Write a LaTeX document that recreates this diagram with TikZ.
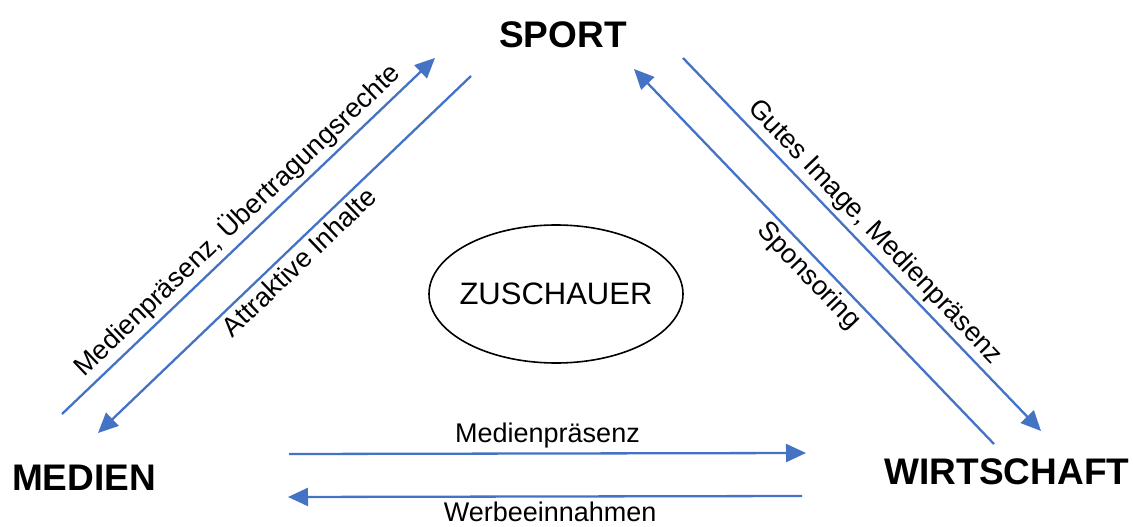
\documentclass[tikz,border=0pt]{standalone}
\usepackage{fontspec}
\setmainfont{Liberation Sans}
\usetikzlibrary{arrows.meta, shapes.geometric, positioning}

\definecolor{linkblue}{RGB}{68,114,196}

\begin{document}
\begin{tikzpicture}[x = 1pt, y = -1pt, % pixel units, y going down
                > = {Triangle[length=20pt, width=18pt]}, % arrow head style
                line width = 2.3pt % line style
            ]

            \tikzstyle{pole}=[font = \fontsize{37}{40}\selectfont\bfseries, inner sep = 0pt]
            \tikzstyle{flow}=[draw = linkblue, fill = linkblue, ->]
            \tikzstyle{flowlabel}=[font = \fontsize{27}{30}\selectfont, inner sep = 4pt,
            text = black, fill = none]

            \useasboundingbox (0,0) rectangle (1133,527);

            \node[pole] (sport) at (563,35) {SPORT};
            \node[pole] (medien) at (84,478) {MEDIEN};
            \node[pole] (wirtschaft) at (1007,472) {WIRTSCHAFT};
            \node[font = \fontsize{31}{34}\selectfont] (zuschauer) at (556,294) {ZUSCHAUER};
            \draw[line width = 1.6pt] (zuschauer.center) ellipse [x radius = 127, y radius = 69];

            % sport -- medien
            \coordinate (ms1) at (62,414); \coordinate (ms2) at (435,58);
            \coordinate (sm1) at (471,76); \coordinate (sm2) at (98,433);
            % sport -- wirtschaft
            \coordinate (sw1) at (683,58); \coordinate (sw2) at (1041,431);
            \coordinate (ws1) at (994,444); \coordinate (ws2) at (634,69);
            % medien -- wirtschaft
            \coordinate (mw1) at (289,454); \coordinate (mw2) at (806,453);
            \coordinate (wm1) at (802,496); \coordinate (wm2) at (288,497);

            \draw[flow] (ms1) -- node[flowlabel, sloped, above, pos = 0.505]
            {Medienpräsenz, Übertragungsrechte} (ms2);
            \draw[flow] (sm1) -- node[flowlabel, sloped, below, pos = 0.49]
            {Attraktive Inhalte} (sm2);
            \draw[flow] (sw1) -- node[flowlabel, sloped, above, pos = 0.5]
            {Gutes Image, Medienpräsenz} (sw2);
            \draw[flow] (ws1) -- node[flowlabel, sloped, below, pos = 0.48]
            {Sponsoring} (ws2);
            \draw[flow] (mw1) -- node[flowlabel, above, pos = 0.5]
            {Medienpräsenz} (mw2);
            \draw[flow] (wm1) -- node[flowlabel, below, pos = 0.49]
            {Werbeeinnahmen} (wm2);
\end{tikzpicture}
\end{document}
